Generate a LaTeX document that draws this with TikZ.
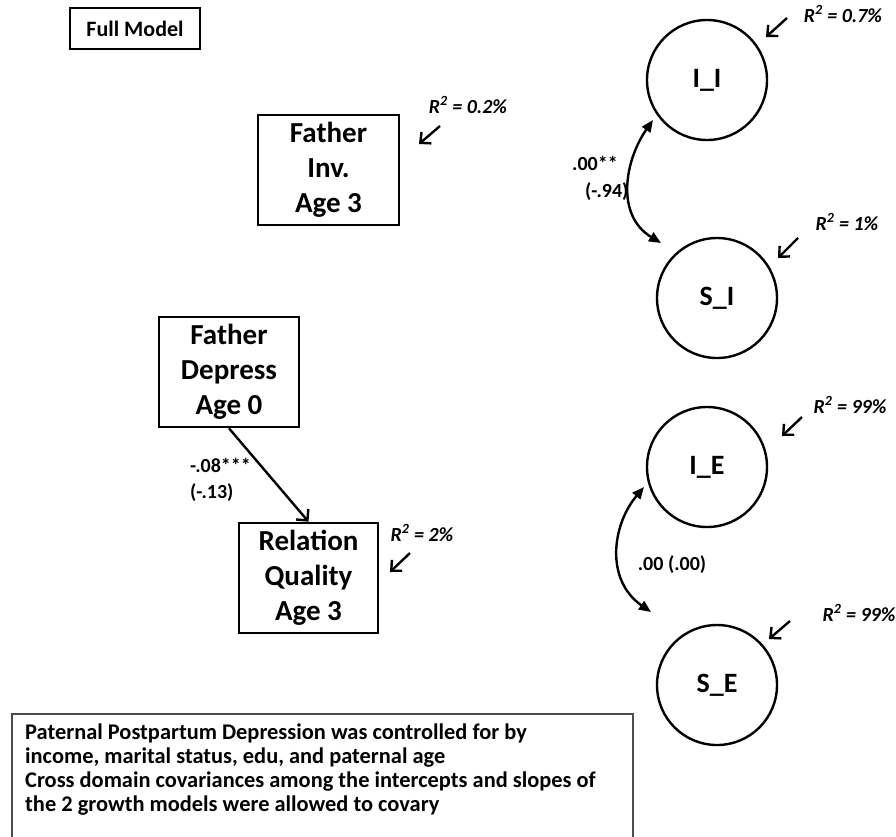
\documentclass[tikz,border=0pt]{standalone}
\usepackage{fontspec}
\setmainfont{Carlito}
\usetikzlibrary{arrows.meta,calc}
\begin{document}
\begin{tikzpicture}[x=1pt,y=-1pt,
  every node/.style={font=\bfseries},
  varbox/.style={draw, line width=2.6pt, minimum width=140pt, minimum height=110pt, inner sep=0pt, align=center, font=\bfseries\fontsize{29}{35}\selectfont},
  latent/.style={draw, circle, line width=2.4pt, minimum size=120pt, inner sep=0pt, font=\bfseries\fontsize{28}{34}\selectfont},
  rsq/.style={font=\bfseries\itshape\fontsize{20}{24}\selectfont, inner sep=0pt},
  coef/.style={font=\bfseries\fontsize{20}{26.5}\selectfont, inner sep=0pt, align=left},
  resid/.style={-{Straight Barb[length=8pt,width=15pt,line width=2.4pt]}, line width=2.4pt},
  regpath/.style={-{Straight Barb[length=8pt,width=16pt,line width=2.4pt]}, line width=2.4pt},
  cov/.style={{Triangle[length=12pt,width=10pt]}-{Triangle[length=12pt,width=10pt]}, line width=2.4pt},
]
\useasboundingbox (0,0) rectangle (896,836);

% title box
\node[draw, line width=2.6pt, minimum width=130pt, minimum height=41pt, inner sep=0pt, font=\bfseries\fontsize{22}{26}\selectfont] (full) at (135,28.5) {Full Model};

% observed variables
\node[varbox, minimum width=141pt] (fi) at (328.5,170) {Father\\Inv.\\Age 3};
\node[varbox] (fd) at (229,372) {Father\\Depress\\Age 0};
\node[varbox, minimum width=139pt] (rq) at (308.5,578) {Relation\\Quality\\Age 3};

% latent growth factors
\node[latent] (ii) at (707,80) {I\_I};
\node[latent] (si) at (717,298) {S\_I};
\node[latent] (ie) at (707,467) {I\_E};
\node[latent] (se) at (717,685) {S\_E};

% regression path
\draw[regpath] (fd.south) -- (rq.north);
\node[coef, anchor=west] (fdrqlab) at (190,480) {-.08***\\(-.13)};

% covariances
\coordinate (c1a) at ($(ii)+(-54,40)$);
\coordinate (c1b) at ($(si)+(-56,-55)$);
\draw[cov] (c1a) .. controls (625,160) and (615,215) .. (c1b);
\node[coef, anchor=west] (c1lab) at (572,178.5) {.00**\\\hspace*{13pt}(-.94)};

\coordinate (c2a) at ($(ie)+(-63,20)$);
\coordinate (c2b) at ($(se)+(-66,-73)$);
\draw[cov] (c2a) .. controls (612,525) and (605,580) .. (c2b);
\node[coef] (c2lab) at (672,565) {.00 (.00)};

% residual arrows and R-squared
\coordinate (fiS) at (440,126); \coordinate (fiE) at (419,144);
\draw[resid] (fiS) -- (fiE);
\node[rsq] (fir) at (468,105) {R\textsuperscript{2} = 0.2\%};

\coordinate (iiS) at (787,18); \coordinate (iiE) at (766,37);
\draw[resid] (iiS) -- (iiE);
\node[rsq] (iir) at (843,14) {R\textsuperscript{2} = 0.7\%};

\coordinate (siS) at (798,238); \coordinate (siE) at (778,258);
\draw[resid] (siS) -- (siE);
\node[rsq] (sir) at (847,222) {R\textsuperscript{2} = 1\%};

\coordinate (rqS) at (410,553); \coordinate (rqE) at (390,572);
\draw[resid] (rqS) -- (rqE);
\node[rsq] (rqr) at (422,533) {R\textsuperscript{2} = 2\%};

\coordinate (ieS) at (802,417); \coordinate (ieE) at (782,436);
\draw[resid] (ieS) -- (ieE);
\node[rsq] (ier) at (850,405) {R\textsuperscript{2} = 99\%};

\coordinate (seS) at (790,621); \coordinate (seE) at (769,639);
\draw[resid] (seS) -- (seE);
\node[rsq] (ser) at (859,613) {R\textsuperscript{2} = 99\%};

% note box
\draw[black!70, line width=1.1pt] (12,840) |- (633,714) -- (633,840);
\node[anchor=north west, align=left, inner sep=0pt, font=\bfseries\fontsize{22.4}{24}\selectfont] (note) at (25,723.5) {Paternal Postpartum Depression was controlled for by\\income, marital status, edu, and paternal age\\Cross domain covariances among the intercepts and slopes of\\the 2 growth models were allowed to covary};
\end{tikzpicture}
\end{document}
